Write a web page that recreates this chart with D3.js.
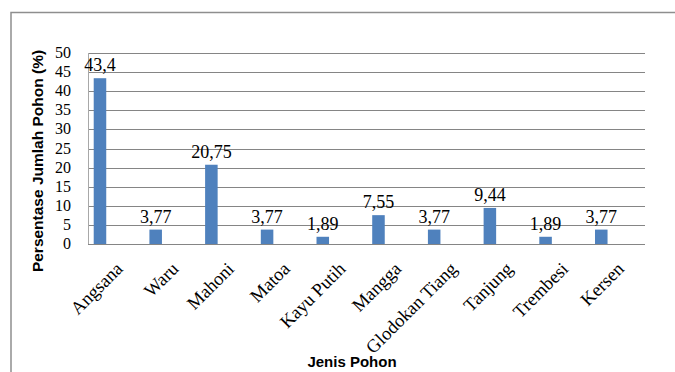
<!DOCTYPE html>
<html>
<head>
<meta charset="utf-8">
<script src="https://cdn.jsdelivr.net/npm/d3@7"></script>
<style>
  html, body { margin: 0; padding: 0; background: #fff; }
  svg { display: block; }
</style>
</head>
<body>
<svg id="chart" width="675" height="372"></svg>
<script>
// Tree species and their share of the total tree count (%)
const categories = ["Angsana", "Waru", "Mahoni", "Matoa", "Kayu Putih", "Mangga",
                    "Glodokan Tiang", "Tanjung", "Trembesi", "Kersen"];
const values = [43.4, 3.77, 20.75, 3.77, 1.89, 7.55, 3.77, 9.44, 1.89, 3.77];
const yTicks = [0, 5, 10, 15, 20, 25, 30, 35, 40, 45, 50];
const yTitle = "Persentase Jumlah Pohon (%)";
const xTitle = "Jenis Pohon";

const svg = d3.select("#chart");
const plot = { left: 88, right: 645, top: 53, bottom: 244 };

const x = d3.scaleBand().domain(categories).range([plot.left, plot.right]).padding(0);
const y = d3.scaleLinear().domain([0, 50]).range([plot.bottom, plot.top]);
const step = x.step();
const barW = step * 0.225;
const barCenter = c => x(c) + step * 0.215;

const serif = "'Liberation Serif', 'Times New Roman', serif";
const sans = "'Liberation Sans', Arial, sans-serif";

// outer chart frame (top and left edges visible)
svg.append("path")
  .attr("d", "M11,372 V12.5 H675")
  .attr("fill", "none")
  .attr("stroke", "#8e8e8e")
  .attr("stroke-width", 1.5);

// horizontal gridlines
svg.append("g").selectAll("line")
  .data(yTicks)
  .join("line")
  .attr("x1", plot.left).attr("x2", plot.right)
  .attr("y1", d => Math.round(y(d)) + 0.5).attr("y2", d => Math.round(y(d)) + 0.5)
  .attr("stroke", "#858585")
  .attr("stroke-width", 1);

// vertical value axis line
svg.append("line")
  .attr("x1", plot.left + 0.5).attr("x2", plot.left + 0.5)
  .attr("y1", plot.top).attr("y2", plot.bottom)
  .attr("stroke", "#a8a8a8").attr("stroke-width", 1);

// y tick labels
svg.append("g").selectAll("text")
  .data(yTicks)
  .join("text")
  .attr("x", 71)
  .attr("y", d => y(d) + 5)
  .attr("text-anchor", "end")
  .attr("font-family", serif)
  .attr("font-size", 16)
  .attr("fill", "#000")
  .text(d => d);

// bars
svg.append("g").selectAll("rect")
  .data(values)
  .join("rect")
  .attr("x", (d, i) => barCenter(categories[i]) - barW / 2)
  .attr("y", d => y(d))
  .attr("width", barW)
  .attr("height", d => y(0) - y(d))
  .attr("fill", "#4f81bd");

// value labels
svg.append("g").selectAll("text")
  .data(values)
  .join("text")
  .attr("x", (d, i) => barCenter(categories[i]))
  .attr("y", d => y(d) - 7)
  .attr("text-anchor", "middle")
  .attr("font-family", serif)
  .attr("font-size", 18)
  .attr("fill", "#000")
  .text(d => String(d).replace(".", ","));

// category labels, rotated
svg.append("g").selectAll("text")
  .data(categories)
  .join("text")
  .attr("transform", d => `translate(${x(d) + step / 2 + 8},270) rotate(-45)`)
  .attr("text-anchor", "end")
  .attr("font-family", serif)
  .attr("font-size", 18.5)
  .attr("fill", "#000")
  .text(d => d);

// axis titles
svg.append("text")
  .attr("transform", "translate(43,161) rotate(-90)")
  .attr("text-anchor", "middle")
  .attr("font-family", sans)
  .attr("font-weight", "bold")
  .attr("font-size", 15.5)
  .attr("fill", "#000")
  .text(yTitle);

svg.append("text")
  .attr("x", 352)
  .attr("y", 367)
  .attr("text-anchor", "middle")
  .attr("font-family", sans)
  .attr("font-weight", "bold")
  .attr("font-size", 15)
  .attr("fill", "#000")
  .text(xTitle);
</script>
</body>
</html>
